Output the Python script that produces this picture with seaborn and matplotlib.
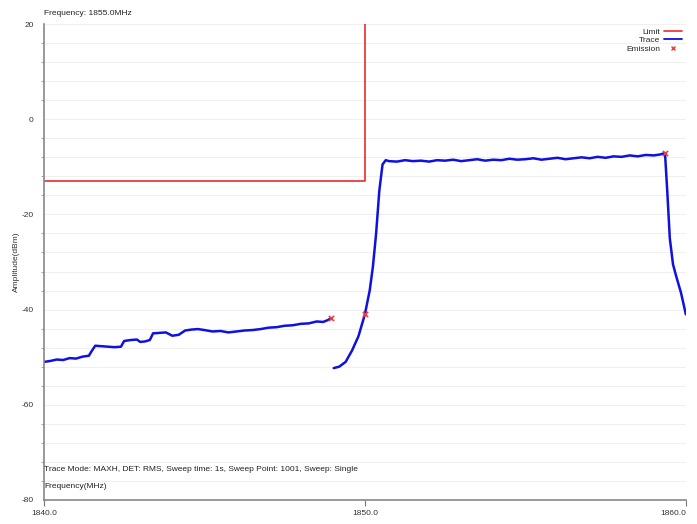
import numpy as np
import pandas as pd
import matplotlib
matplotlib.use("Agg")
import matplotlib.pyplot as plt
from matplotlib.lines import Line2D
from matplotlib.ticker import MultipleLocator
import seaborn as sns

# ---- data ----
limit_freq = [1840.0, 1850.0, 1850.0]
limit_amp = [-13.0, -13.0, 20.0]

# lower band trace (1840 .. 1849)
low_freq = [1840.0, 1840.2, 1840.4, 1840.6, 1840.8, 1841.0, 1841.2, 1841.4, 1841.5, 1841.6,
            1841.8, 1842.0, 1842.2, 1842.4, 1842.5, 1842.7, 1842.9, 1843.0, 1843.15, 1843.3,
            1843.4, 1843.6, 1843.8, 1844.0, 1844.2, 1844.4, 1844.6, 1844.8, 1845.0, 1845.25,
            1845.5, 1845.75, 1846.0, 1846.25, 1846.5, 1846.75, 1847.0, 1847.25, 1847.5, 1847.75,
            1848.0, 1848.25, 1848.5, 1848.7, 1848.85, 1848.95]
low_amp = [-51.0, -50.8, -50.5, -50.6, -50.2, -50.3, -49.9, -49.7, -48.6, -47.6,
           -47.7, -47.8, -47.9, -47.8, -46.6, -46.4, -46.3, -46.8, -46.7, -46.4,
           -45.0, -44.9, -44.8, -45.5, -45.3, -44.4, -44.2, -44.1, -44.3, -44.6,
           -44.5, -44.8, -44.6, -44.4, -44.3, -44.1, -43.8, -43.7, -43.4, -43.3,
           -43.0, -42.9, -42.5, -42.6, -42.2, -41.8]

# main channel trace (1849 .. 1860)
high_freq = [1849.03, 1849.2, 1849.4, 1849.6, 1849.8, 1850.0, 1850.15, 1850.25, 1850.35, 1850.45,
             1850.55, 1850.65, 1850.75, 1851.0, 1851.25, 1851.5, 1851.75, 1852.0, 1852.25, 1852.5,
             1852.75, 1853.0, 1853.25, 1853.5, 1853.75, 1854.0, 1854.25, 1854.5, 1854.75, 1855.0,
             1855.25, 1855.5, 1855.75, 1856.0, 1856.25, 1856.5, 1856.75, 1857.0, 1857.25, 1857.5,
             1857.75, 1858.0, 1858.25, 1858.5, 1858.75, 1859.0, 1859.2, 1859.35, 1859.42, 1859.5,
             1859.6, 1859.7, 1859.85, 1860.0]
high_amp = [-52.3, -52.0, -51.0, -48.6, -45.6, -41.0, -36.0, -31.0, -24.0, -15.0,
            -9.5, -8.6, -8.8, -8.9, -8.6, -8.8, -8.7, -8.9, -8.6, -8.7,
            -8.5, -8.8, -8.6, -8.4, -8.7, -8.5, -8.6, -8.3, -8.5, -8.4,
            -8.2, -8.5, -8.3, -8.1, -8.4, -8.2, -8.0, -8.2, -7.9, -8.1,
            -7.8, -7.9, -7.6, -7.8, -7.5, -7.6, -7.4, -7.1, -15.0, -25.0,
            -30.5, -33.0, -36.5, -41.0]

emis_freq = [1848.95, 1850.0, 1859.35]
emis_amp = [-41.8, -41.0, -7.1]

header = "Frequency: 1855.0MHz"
footer = "Trace Mode: MAXH, DET: RMS, Sweep time: 1s, Sweep Point: 1001, Sweep: Single"

sns.set_style("white")
plt.rcParams["font.family"] = ["Liberation Sans", "DejaVu Sans"]
plt.rcParams["axes.unicode_minus"] = False

fig = plt.figure(figsize=(6.97, 5.24), dpi=100)
ax = fig.add_axes([0.063, 0.046, 0.921, 0.908])

blue = "#1010e0"
red = "#ee3b3b"

sns.lineplot(x=limit_freq, y=limit_amp, color=red, lw=1.3, sort=False, estimator=None, ax=ax)
sns.lineplot(x=low_freq, y=low_amp, color=blue, lw=1.8, sort=False, estimator=None, ax=ax)
sns.lineplot(x=high_freq, y=high_amp, color=blue, lw=1.8, sort=False, estimator=None, ax=ax)
sns.scatterplot(x=emis_freq, y=emis_amp, color=red, marker="x", s=14, linewidth=1.2, ax=ax, zorder=5)

ax.set_xlim(1840, 1860)
ax.set_ylim(-80, 20)
ax.set_xticks([1840, 1850, 1860])
ax.set_xticklabels(["1840.0", "1850.0", "1860.0"])
ax.set_yticks([20, 0, -20, -40, -60, -80])
ax.yaxis.set_minor_locator(MultipleLocator(4))
ax.grid(axis="y", which="both", color="#f0f0f0", lw=0.8)
ax.set_axisbelow(True)
ax.tick_params(axis="both", which="major", labelsize=6, length=4, color="#777777", labelcolor="#333333")
ax.tick_params(axis="y", which="minor", length=2, color="#999999", left=True)
ax.tick_params(axis="x", bottom=True)
for side in ["top", "right"]:
    ax.spines[side].set_visible(False)
for side in ["left", "bottom"]:
    ax.spines[side].set_color("#888888")
    ax.spines[side].set_linewidth(1.2)

# keep the last x tick label inside the figure
ax.get_xticklabels()[-1].set_horizontalalignment("right")

ax.set_xlabel("")
ax.set_ylabel("Amplitude(dBm)", fontsize=6, color="#333333", labelpad=1)

fig.text(0.063, 0.975, header, fontsize=6, color="#222222", va="center")
ax.text(0.0, 0.064, footer, transform=ax.transAxes, fontsize=6, color="#222222", va="center")
ax.text(0.0, 0.028, "Frequency(MHz)", transform=ax.transAxes, fontsize=6, color="#222222", va="center")

handles = [Line2D([], [], color=red, lw=1.3),
           Line2D([], [], color=blue, lw=1.3),
           Line2D([], [], color=red, lw=0, marker="x", markersize=3)]
ax.legend(handles, ["Limit", "Trace", "Emission"], loc="upper right",
          bbox_to_anchor=(0.985, 0.955), bbox_transform=fig.transFigure,
          frameon=False, fontsize=6, markerfirst=False, handlelength=2.2,
          handletextpad=0.5, labelspacing=0.1, borderpad=0)

fig.savefig("out.png", dpi=100)
